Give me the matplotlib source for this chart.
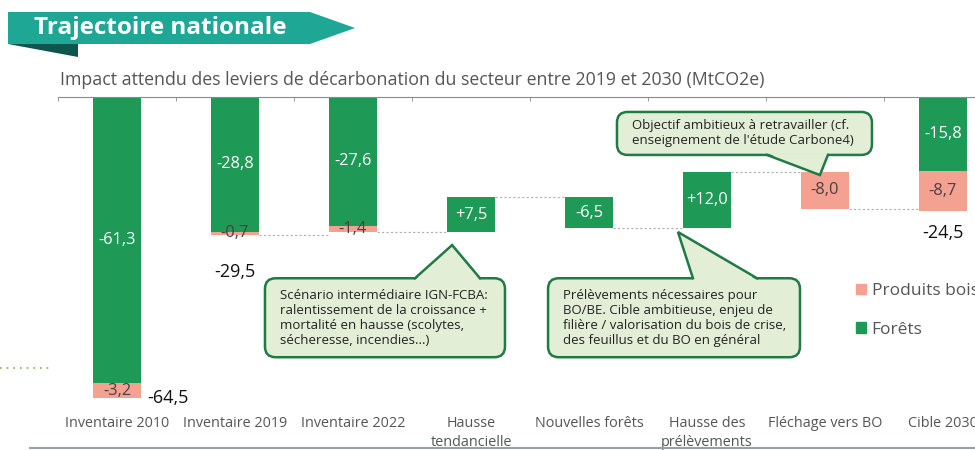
import matplotlib.pyplot as plt
import numpy as np
from matplotlib.patches import Polygon, FancyBboxPatch, Patch

plt.rcParams['font.family'] = ['Open Sans', 'DejaVu Sans']

# Données (MtCO2e)
categories = ["Inventaire 2010", "Inventaire 2019", "Inventaire 2022", "Hausse\ntendancielle",
              "Nouvelles forêts", "Hausse des\nprélèvements", "Fléchage vers BO", "Cible 2030"]
forets = [-61.3, -28.8, -27.6, 7.5, -6.5, 12.0, 0.0, -15.8]
produits = [-3.2, -0.7, -1.4, 0.0, 0.0, 0.0, -8.0, -8.7]
est_total = [True, True, True, False, False, False, False, True]
totaux_affiches = [-64.5, -29.5, None, None, None, None, None, -24.5]

VERT = '#1e9a56'
SAUMON = '#f4a192'
GRIS = '#555555'

W, H = 975, 450
fig = plt.figure(figsize=(W / 100, H / 100), dpi=100)
fig.patch.set_facecolor('white')


def px(x, y):
    # pixels (origine en haut a gauche) -> coordonnees figure
    return x / W, 1 - y / H


# bandeau titre
bandeau = Polygon([px(8, 12), px(310, 12), px(355, 28), px(310, 44), px(8, 44)],
                  closed=True, transform=fig.transFigure, facecolor='#1fa796', edgecolor='none')
ombre = Polygon([px(8, 44), px(78, 44), px(78, 57)], closed=True,
                transform=fig.transFigure, facecolor='#0d564d', edgecolor='none')
fig.patches.extend([bandeau, ombre])
fig.text(*px(34, 28), "Trajectoire nationale", color='white', fontsize=17.5,
         fontweight='bold', va='center', ha='left')
fig.text(*px(60, 80), "Impact attendu des leviers de décarbonation du secteur entre 2019 et 2030 (MtCO2e)",
         color=GRIS, fontsize=12.8, va='center', ha='left')

# petits traits decoratifs
fig.add_artist(plt.Line2D([0, 52 / W], [1 - 368 / H] * 2, transform=fig.transFigure,
                          color='#7ab648', lw=1.2, ls=(0, (1, 3))))
fig.add_artist(plt.Line2D([30 / W, 1], [1 - 448 / H] * 2, transform=fig.transFigure,
                          color='#9aa0a6', lw=1.5))

ax = fig.add_axes([58 / W, 40 / H, 944 / W, 313 / H])
ax.set_xlim(-0.5, 7.5)
ax.set_ylim(-67, 0)
largeur = 0.4


def fmt(v, signe=False):
    s = f"{v:+.1f}" if signe else f"{v:.1f}"
    return s.replace('.', ',')


TXT = 11.8
niveau = 0.0
fins = []
for i in range(len(categories)):
    if est_total[i]:
        ax.bar(i, forets[i], bottom=0, width=largeur, color=VERT, zorder=2)
        ax.bar(i, produits[i], bottom=forets[i], width=largeur, color=SAUMON, zorder=2)
        ax.text(i, forets[i] / 2, fmt(forets[i]), color='white', fontsize=TXT,
                ha='center', va='center', zorder=4)
        ax.text(i, forets[i] + produits[i] / 2, fmt(produits[i]), color='#4a4040', fontsize=TXT,
                ha='center', va='center', zorder=4)
        niveau = forets[i] + produits[i]
    else:
        if forets[i] != 0:
            ax.bar(i, forets[i], bottom=niveau, width=largeur, color=VERT, zorder=2)
            ax.text(i, niveau + forets[i] / 2, fmt(forets[i], forets[i] > 0), color='white',
                    fontsize=TXT, ha='center', va='center', zorder=4)
            niveau += forets[i]
        if produits[i] != 0:
            ax.bar(i, produits[i], bottom=niveau, width=largeur, color=SAUMON, zorder=2)
            ax.text(i, niveau + produits[i] / 2, fmt(produits[i]), color='#4a4040',
                    fontsize=TXT, ha='center', va='center', zorder=4)
            niveau += produits[i]
    fins.append(niveau)

# traits de liaison
for i in range(2, len(categories)):
    ax.plot([i - 1 + largeur / 2, i - largeur / 2], [fins[i - 1]] * 2, color='#b0b0b0',
            lw=0.8, ls=(0, (2, 2)), zorder=1)

# totaux
decal = {0: (0.26, 0, 'left'), 1: (0, -7.9, 'center'), 7: (0, -4.7, 'center')}
for i, t in enumerate(totaux_affiches):
    if t is None:
        continue
    dx, dy, ha = decal[i]
    ax.text(i + dx, t + dy, fmt(t), color='#111111', fontsize=13, ha=ha, va='center',
            fontweight='medium')

# axes
for s in ['right', 'left', 'bottom']:
    ax.spines[s].set_visible(False)
ax.spines['top'].set_color('#8a8a8a')
ax.set_yticks([])
ax.set_xticks(range(len(categories)))
ax.set_xticklabels(categories, color=GRIS, fontsize=10.4, linespacing=1.4)
ax.set_xticks(np.arange(-0.5, len(categories), 1), minor=True)
ax.tick_params(axis='x', which='major', length=0, pad=4)
ax.tick_params(axis='x', which='minor', top=True, bottom=False, direction='in',
               length=3, color='#8a8a8a')

# bulles
ASPECT = (1 / 4.67) / (1 / 118)
FOND = '#e3eed6'
BORD = '#1f7a45'


def bulle(x0, x1, y0, y1, base, pointe, texte):
    boite = FancyBboxPatch((x0, y0), x1 - x0, y1 - y0, boxstyle='round,pad=0,rounding_size=0.09',
                           mutation_aspect=ASPECT, facecolor=FOND, edgecolor=BORD, lw=1.8,
                           zorder=5, clip_on=False)
    ax.add_patch(boite)
    yb = y1 if pointe[1] > y1 else y0
    inset = -0.4 if pointe[1] > y1 else 0.4
    ax.add_patch(Polygon([(base[0], yb + inset), (pointe[0], pointe[1]), (base[1], yb + inset)],
                         closed=True, facecolor=FOND, edgecolor='none', zorder=6, clip_on=False))
    ax.plot([base[0], pointe[0], base[1]], [yb, pointe[1], yb], color=BORD, lw=1.8,
            zorder=7, solid_joinstyle='miter', clip_on=False)
    ax.text(x0 + 0.13, (y0 + y1) / 2, texte, fontsize=9.5, color='#222222', ha='left',
            va='center', linespacing=1.2, zorder=8)


bulle(1.254, 3.288, -55.7, -38.8, (2.525, 3.076), (2.84, -31.7),
      "Scénario intermédiaire IGN-FCBA:\nralentissement de la croissance +\n"
      "mortalité en hausse (scolytes,\nsécheresse, incendies...)")
bulle(3.653, 5.788, -55.7, -38.8, (4.881, 5.424), (4.754, -28.9),
      "Prélèvements nécessaires pour\nBO/BE. Cible ambitieuse, enjeu de\n"
      "filière / valorisation du bois de crise,\ndes feuillus et du BO en général")
bulle(4.237, 6.398, -12.4, -3.2, (5.508, 6.025), (5.957, -16.7),
      "Objectif ambitieux à retravailler (cf.\nenseignement de l'étude Carbone4)")

# legende
poignees = [Patch(color=SAUMON, label='Produits bois'), Patch(color=VERT, label='Forêts')]
fig.legend(handles=poignees, loc='upper left', bbox_to_anchor=px(856, 283), frameon=False,
           fontsize=12.5, labelcolor=GRIS, handlelength=0.55, handleheight=0.55,
           handletextpad=0.35, labelspacing=1.3, borderaxespad=0, borderpad=0)

fig.savefig('out.png', dpi=100)
